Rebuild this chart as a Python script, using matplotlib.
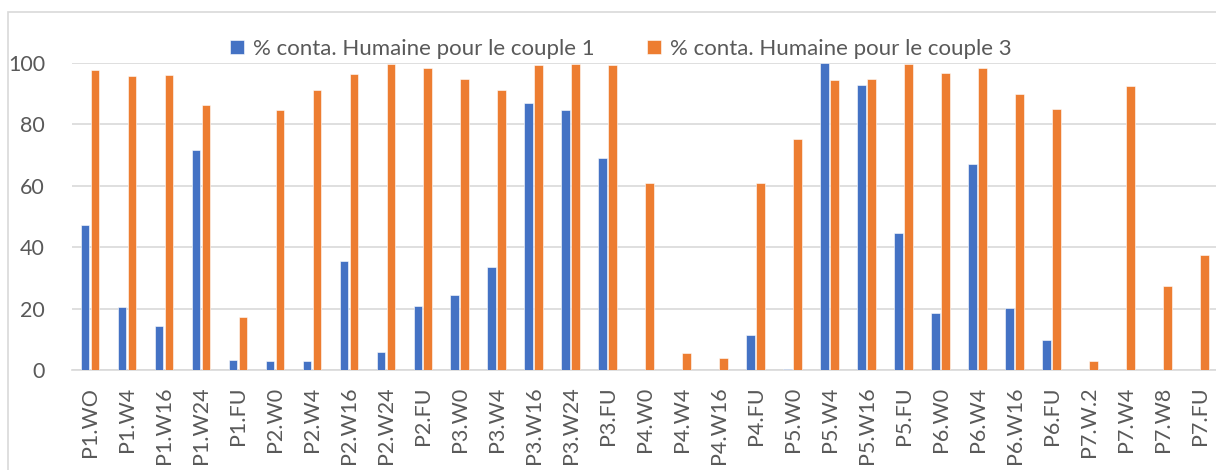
import matplotlib
matplotlib.use("Agg")
import matplotlib.pyplot as plt
import numpy as np
from matplotlib.patches import Rectangle

categories = ["P1.WO", "P1.W4", "P1.W16", "P1.W24", "P1.FU",
              "P2.W0", "P2.W4", "P2.W16", "P2.W24", "P2.FU",
              "P3.W0", "P3.W4", "P3.W16", "P3.W24", "P3.FU",
              "P4.W0", "P4.W4", "P4.W16", "P4.FU",
              "P5.W0", "P5.W4", "P5.W16", "P5.FU",
              "P6.W0", "P6.W4", "P6.W16", "P6.FU",
              "P7.W.2", "P7.W4", "P7.W8", "P7.FU"]
couple1 = [47.2, 20.4, 14.3, 71.6, 3.2,
           3.0, 2.9, 35.5, 6.0, 20.8,
           24.5, 33.4, 86.9, 84.7, 69.1,
           0, 0, 0, 11.3,
           0.4, 100, 92.7, 44.6,
           18.5, 67.0, 20.2, 9.7,
           0, 0, 0, 0]
couple3 = [97.7, 95.7, 96.0, 86.2, 17.3,
           84.7, 91.1, 96.5, 99.8, 98.3,
           94.8, 91.1, 99.4, 99.8, 99.4,
           61.0, 5.4, 3.8, 61.0,
           75.2, 94.5, 94.8, 99.8,
           96.6, 98.3, 89.8, 85.1,
           2.9, 92.4, 27.4, 37.5]
labels = ["% conta. Humaine pour le couple 1", "% conta. Humaine pour le couple 3"]
yticks = [0, 20, 40, 60, 80, 100]

plt.rcParams['font.family'] = ['Lato', 'DejaVu Sans']
TXT = '#595959'
FS = 15.5

fig = plt.figure(figsize=(12.16, 4.70), dpi=100)
W, H = 1216, 470
left, right, bottom, top = 71.5, 1218, 370, 63
ax = fig.add_axes([left / W, (H - bottom) / H, (right - left) / W, (bottom - top) / H])

x = np.arange(len(categories))
bw = 0.235
ax.bar(x - 0.135, couple1, bw, color='#4472C4', edgecolor='white', linewidth=0.4, label=labels[0], zorder=3)
ax.bar(x + 0.135, couple3, bw, color='#ED7D31', edgecolor='white', linewidth=0.4, label=labels[1], zorder=3)

ax.set_xlim(-0.5, len(categories) - 0.5)
ax.set_ylim(0, 100)
ax.set_yticks(yticks)
ax.set_yticklabels([str(v) for v in yticks], fontsize=FS, color=TXT)
ax.set_xticks(x)
ax.set_xticklabels(categories, rotation=90, fontsize=FS, color=TXT)
ax.tick_params(axis='both', length=0)
ax.tick_params(axis='y', pad=19)
ax.tick_params(axis='x', pad=12)
ax.yaxis.grid(True, color='#d9d9d9', linewidth=1.2, zorder=0)
ax.set_axisbelow(True)
for s in ['top', 'right', 'left']:
    ax.spines[s].set_visible(False)
ax.spines['bottom'].set_color('#d9d9d9')
ax.spines['bottom'].set_linewidth(1.2)

leg = fig.legend(loc='center', bbox_to_anchor=(621 / W, (H - 49) / H), ncol=2, frameon=False,
                 fontsize=16, handlelength=0.62, handleheight=0.62, handletextpad=0.4,
                 columnspacing=2.36, labelcolor=TXT)

fig.patches.append(Rectangle((8 / W, -0.1), 1.2, (H - 12) / H + 0.1, transform=fig.transFigure,
                             fill=False, edgecolor='#d9d9d9', linewidth=1.2))

fig.savefig('out.png', dpi=100)
